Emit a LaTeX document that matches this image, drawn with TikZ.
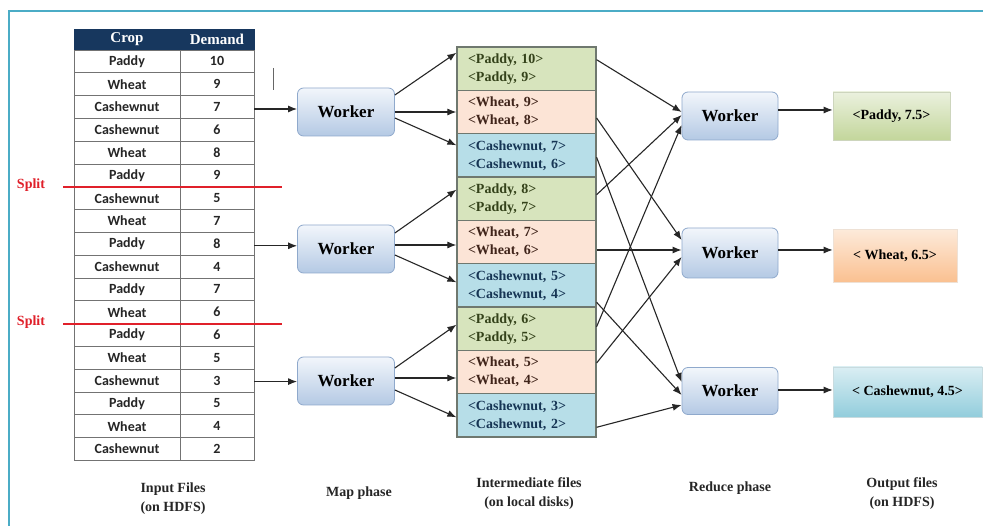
\documentclass[tikz,border=0pt]{standalone}
\usepackage{fontspec}
\setmainfont{Liberation Serif}
\newfontfamily\calfont{Carlito}
\usetikzlibrary{arrows.meta,calc}
\definecolor{framec}{HTML}{4BACC6}
\definecolor{navy}{HTML}{17375E}
\definecolor{gfill}{HTML}{D7E4BD}
\definecolor{pfill}{HTML}{FCE4D6}
\definecolor{bfill}{HTML}{B7DEE8}
\definecolor{gtext}{HTML}{34421A}
\definecolor{ptext}{HTML}{40241A}
\definecolor{btext}{HTML}{173655}
\definecolor{cellborder}{HTML}{6F786F}
\definecolor{wtop}{HTML}{F2F6FB}
\definecolor{wbot}{HTML}{B4C9E4}
\definecolor{wborder}{HTML}{8FA9CC}
\definecolor{splitred}{HTML}{E0202A}
\definecolor{ogtop}{HTML}{EBF1DE}
\definecolor{ogbot}{HTML}{C3D69B}
\definecolor{optop}{HTML}{FDEADA}
\definecolor{opbot}{HTML}{FAC090}
\definecolor{obtop}{HTML}{DAEEF3}
\definecolor{obbot}{HTML}{92CDDC}
\begin{document}
\begin{tikzpicture}[x=1pt,y=-1pt,
  tcell/.style={draw=black!55, line width=0.8pt, minimum height=22.8pt, inner sep=0pt,
    font=\calfont\bfseries\fontsize{14}{16}\selectfont, text=black!85},
  hcell/.style={draw=navy, fill=navy, minimum height=21pt, inner sep=0pt, text=white,
    font=\bfseries\fontsize{15}{17}\selectfont},
  icell/.style={draw=cellborder, line width=1.2pt, minimum height=43.3pt, text width=117pt,
    inner xsep=11pt, inner ysep=0pt, align=left, font=\bfseries\fontsize{14}{18}\selectfont},
  worker/.style={rounded corners=6pt, draw=wborder, line width=0.8pt, top color=wtop, bottom color=wbot,
    minimum width=97pt, minimum height=48pt, inner sep=0pt, font=\bfseries\fontsize{17}{20}\selectfont},
  outbox/.style={line width=0.6pt, minimum height=49pt, inner sep=0pt,
    font=\bfseries\fontsize{14}{16}\selectfont},
  conn/.style={draw=black!85, line width=1.1pt, -{Latex[length=9pt,width=7pt]}},
  lab/.style={align=center, font=\bfseries\fontsize{14}{19}\selectfont, text=black!85},
  splitlab/.style={text=splitred, font=\bfseries\fontsize{14}{16}\selectfont},
  splitline/.style={draw=splitred, line width=1.8pt}
]
\useasboundingbox (0,0) rectangle (983,526);
\fill[white] (0,0) rectangle (983,526);
% frame
\draw[framec, line width=2.2pt] (9,526) -- (9,11) -- (983,11);

% table
\node[hcell, minimum width=106pt] (hc) at (127,39.5) {Crop};
\node[hcell, minimum width=74pt] (hd) at (217,39.5) {Demand};
\foreach \crop/\dem [count=\i] in {Paddy/10, Wheat/9, Cashewnut/7, Cashewnut/6, Wheat/8, Paddy/9,
  Cashewnut/5, Wheat/7, Paddy/8, Cashewnut/4, Paddy/7, Wheat/6,
  Paddy/6, Wheat/5, Cashewnut/3, Paddy/5, Wheat/4, Cashewnut/2} {
  \node[tcell, minimum width=106pt] (c\i) at (127,{50+(\i-0.5)*22.8}) {\crop};
  \node[tcell, minimum width=74pt] (d\i) at (217,{50+(\i-0.5)*22.8}) {\dem};
}

% split markers
\coordinate (sp1a) at (63,187); \coordinate (sp1b) at (282,187);
\coordinate (sp2a) at (63,324); \coordinate (sp2b) at (282,324);
\draw[splitline] (sp1a) -- (sp1b);
\draw[splitline] (sp2a) -- (sp2b);
\node[splitlab] (split1) at (31,185) {Split};
\node[splitlab] (split2) at (31,322) {Split};

% stray mark
\coordinate (m1) at (273,68); \coordinate (m2) at (273,90);
\draw[black!60, line width=0.8pt] (m1) -- (m2);

% map workers
\node[worker] (mw1) at (346,112) {Worker};
\node[worker] (mw2) at (346,249) {Worker};
\node[worker] (mw3) at (346,381) {Worker};

% intermediate files
\node[icell, fill=gfill, text=gtext] (s1) at (526.5,68.7) {<Paddy, 10>\\<Paddy, 9>};
\node[icell, fill=pfill, text=ptext] (s2) at (526.5,112.0) {<Wheat, 9>\\<Wheat, 8>};
\node[icell, fill=bfill, text=btext] (s3) at (526.5,155.3) {<Cashewnut, 7>\\<Cashewnut, 6>};
\node[icell, fill=gfill, text=gtext] (s4) at (526.5,198.7) {<Paddy, 8>\\<Paddy, 7>};
\node[icell, fill=pfill, text=ptext] (s5) at (526.5,242.0) {<Wheat, 7>\\<Wheat, 6>};
\node[icell, fill=bfill, text=btext] (s6) at (526.5,285.3) {<Cashewnut, 5>\\<Cashewnut, 4>};
\node[icell, fill=gfill, text=gtext] (s7) at (526.5,328.7) {<Paddy, 6>\\<Paddy, 5>};
\node[icell, fill=pfill, text=ptext] (s8) at (526.5,372.0) {<Wheat, 5>\\<Wheat, 4>};
\node[icell, fill=bfill, text=btext] (s9) at (526.5,415.3) {<Cashewnut, 3>\\<Cashewnut, 2>};

% reduce workers
\node[worker, minimum width=96pt] (rw1) at (730,116) {Worker};
\node[worker, minimum width=96pt, minimum height=50pt] (rw2) at (730,253) {Worker};
\node[worker, minimum width=96pt, minimum height=47pt] (rw3) at (730,391) {Worker};

% outputs
\node[outbox, draw=ogbot!80!black!50, top color=ogtop, bottom color=ogbot, minimum width=117pt, minimum height=48pt] (o1) at (891.5,116) {<Paddy, 7.5>};
\node[outbox, draw=opbot!80!black!30, top color=optop, bottom color=opbot, minimum width=124pt, minimum height=53pt] (o2) at (895,256) {< Wheat, 6.5>};
\node[outbox, draw=obbot!80!black!40, top color=obtop, bottom color=obbot, minimum width=149pt, minimum height=50pt] (o3) at (907.5,392) {< Cashewnut, 4.5>};

% helper coordinates for horizontal connectors
\coordinate (a3) at ($(d3.east)+(0,2)$);
\coordinate (a9) at ($(d9.east)+(0,2)$);
\coordinate (a15) at ($(d15.east)+(0,1)$);
\coordinate (b2) at (mw1.east);
\coordinate (b5) at ($(mw2.east)+(0,-4)$);
\coordinate (b8) at ($(mw3.east)+(0,-3)$);
\coordinate (r5) at ($(s5.east)+(0,8)$);
\coordinate (q1) at ($(rw1.east)+(0,-6)$);
\coordinate (q2) at ($(rw2.east)+(0,-3)$);
\coordinate (q3) at ($(rw3.east)+(0,-1)$);

% input arrows
\draw[conn] (a3) -- (mw1.west |- a3);
\draw[conn] (a9) -- (mw2.west |- a9);
\draw[conn] (a15) -- (mw3.west |- a15);

% map arrows
\draw[conn] ($(mw1.east)+(0,-17)$) -- ($(s1.west)+(0,-16)$);
\draw[conn] (b2) -- (s2.west |- b2);
\draw[conn] ($(mw1.east)+(0,6)$) -- ($(s3.west)+(0,-10)$);
\draw[conn] ($(mw2.east)+(0,-16)$) -- ($(s4.west)+(0,-9)$);
\draw[conn] (b5) -- (s5.west |- b5);
\draw[conn] ($(mw2.east)+(0,6)$) -- ($(s6.west)+(0,-3)$);
\draw[conn] ($(mw3.east)+(0,-13)$) -- ($(s7.west)+(0,-4)$);
\draw[conn] (b8) -- (s8.west |- b8);
\draw[conn] ($(mw3.east)+(0,9)$) -- ($(s9.west)+(0,2)$);

% reduce arrows
\draw[conn] ($(s1.east)+(0,-9)$) -- ($(rw1.west)+(0,-4)$);
\draw[conn] ($(s2.east)+(0,6)$) -- ($(rw2.west)+(0,-13)$);
\draw[conn] ($(s3.east)+(0,2)$) -- ($(rw3.west)+(0,-9)$);
\draw[conn] ($(s4.east)+(0,-4)$) -- ($(rw1.west)+(0,-1)$);
\draw[conn] (r5) -- (rw2.west |- r5);
\draw[conn] ($(s6.east)+(0,17)$) -- ($(rw3.west)+(0,4)$);
\draw[conn] ($(s7.east)+(0,-2)$) -- ($(rw1.west)+(0,9)$);
\draw[conn] ($(s8.east)+(0,-9)$) -- ($(rw2.west)+(0,4)$);
\draw[conn] ($(s9.east)+(0,12)$) -- ($(rw3.west)+(0,14)$);

% output arrows
\draw[conn] (q1) -- (o1.west |- q1);
\draw[conn] (q2) -- (o2.west |- q2);
\draw[conn] (q3) -- (o3.west |- q3);

% labels
\node[lab] (l1) at (173,499) {Input Files\\(on HDFS)};
\node[lab] (l2) at (359,493) {Map phase};
\node[lab] (l3) at (529,494) {Intermediate files\\(on local disks)};
\node[lab] (l4) at (730,488) {Reduce phase};
\node[lab] (l5) at (902,494) {Output files\\(on HDFS)};
\end{tikzpicture}
\end{document}
